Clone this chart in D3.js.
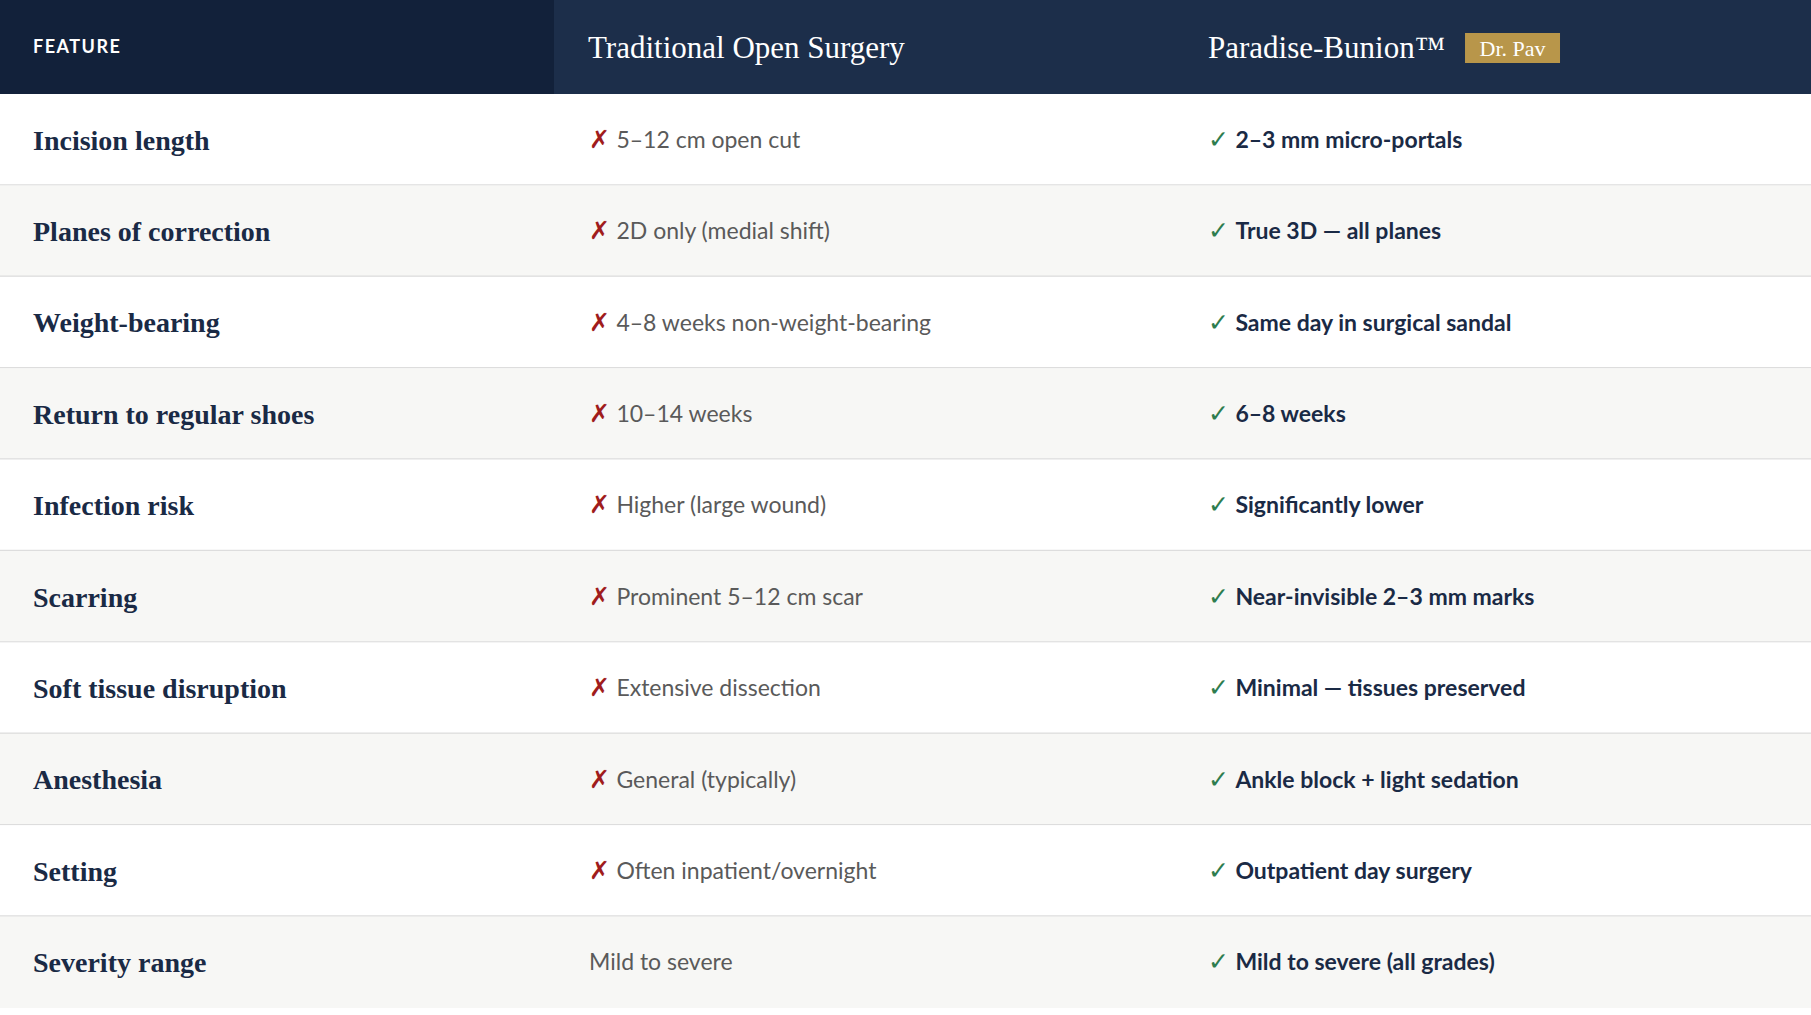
<!DOCTYPE html>
<html><head><meta charset="utf-8">
<script src="https://cdn.jsdelivr.net/npm/d3@7"></script>
<style>html,body{margin:0;background:#fff}</style>
</head><body><svg id="c" width="1811" height="1015"></svg>
<script>
const headers = ["FEATURE", "Traditional Open Surgery", "Paradise-Bunion™"];
const badge = "Dr. Pav";
const features = ["Incision length","Planes of correction","Weight-bearing","Return to regular shoes","Infection risk","Scarring","Soft tissue disruption","Anesthesia","Setting","Severity range"];
const traditional = ["5–12 cm open cut","2D only (medial shift)","4–8 weeks non-weight-bearing","10–14 weeks","Higher (large wound)","Prominent 5–12 cm scar","Extensive dissection","General (typically)","Often inpatient/overnight","Mild to severe"];
const tradMark = [true,true,true,true,true,true,true,true,true,false];
const paradise = ["2–3 mm micro-portals","True 3D — all planes","Same day in surgical sandal","6–8 weeks","Significantly lower","Near-invisible 2–3 mm marks","Minimal — tissues preserved","Ankle block + light sedation","Outpatient day surgery","Mild to severe (all grades)"];

const svg = d3.select("#c");
const W = 1811, headH = 94, rowH = 91.4;
const x = d3.scaleOrdinal().domain([0,1,2]).range([0,554,1180]);
const textX = [33,589,1208];
const y = d3.scaleBand().domain(d3.range(features.length)).range([headH, headH + rowH*features.length]);
const serif = "'Liberation Serif','DejaVu Serif',serif";
const sans = "'Lato','Noto Sans',sans-serif";

svg.append("rect").attr("x",0).attr("y",0).attr("width",W).attr("height",headH).attr("fill","#1c2e4a");
svg.append("rect").attr("x",0).attr("y",0).attr("width",x(1)).attr("height",headH).attr("fill","#12213a");
svg.append("text").attr("x",textX[0]).attr("y",headH/2).attr("dy","0.35em").text(headers[0])
  .attr("fill","#fff").attr("font-family",sans).attr("font-weight",700).attr("font-size",18).attr("letter-spacing",1.5);
svg.append("text").attr("x",textX[1]-1).attr("y",headH/2).attr("dy","0.35em").text(headers[1])
  .attr("fill","#fff").attr("font-family",serif).attr("font-size",31);
const ph = svg.append("text").attr("x",textX[2]).attr("y",headH/2).attr("dy","0.35em").text(headers[2])
  .attr("fill","#fff").attr("font-family",serif).attr("font-size",31);
const bw = ph.node().getComputedTextLength();
const bx = textX[2] + bw + 20;
svg.append("rect").attr("x",bx).attr("y",33).attr("width",95).attr("height",30).attr("fill","#b8964a");
svg.append("text").attr("x",bx+47.5).attr("y",48).attr("dy","0.35em").attr("text-anchor","middle").text(badge)
  .attr("fill","#fff").attr("font-family",serif).attr("font-size",22);

const rows = svg.selectAll("g.row").data(features).join("g").attr("class","row")
  .attr("transform",(d,i)=>`translate(0,${y(i)})`);
rows.append("rect").attr("width",W).attr("height",y.bandwidth()).attr("fill",(d,i)=>i%2?"#f7f7f5":"#ffffff");
rows.append("line").attr("x1",0).attr("x2",W).attr("y1",y.bandwidth()-0.5).attr("y2",y.bandwidth()-0.5)
  .attr("stroke",(d,i)=>i===features.length-1?"none":"#dddddd").attr("stroke-width",1.5);
const cy = y.bandwidth()/2;
rows.append("text").attr("x",textX[0]).attr("y",cy).attr("dy","0.35em").text(d=>d)
  .attr("fill","#1a2a45").attr("font-family",serif).attr("font-weight",700).attr("font-size",28);
const t2 = rows.append("text").attr("x",textX[1]).attr("y",cy).attr("dy","0.35em")
  .attr("font-family",sans).attr("font-size",23);
t2.append("tspan").attr("fill","#a01c1c").attr("font-size",25).text((d,i)=>tradMark[i]?"✗ ":"");
t2.append("tspan").attr("fill","#5a5a5a").text((d,i)=>traditional[i]);
const t3 = rows.append("text").attr("x",textX[2]).attr("y",cy).attr("dy","0.35em")
  .attr("font-family",sans).attr("font-size",23).attr("font-weight",700);
t3.append("tspan").attr("fill","#2e7d4f").attr("font-weight",400).attr("font-size",25).text("✓ ");
t3.append("tspan").attr("fill","#1a2a45").text((d,i)=>paradise[i]);
</script></body></html>
